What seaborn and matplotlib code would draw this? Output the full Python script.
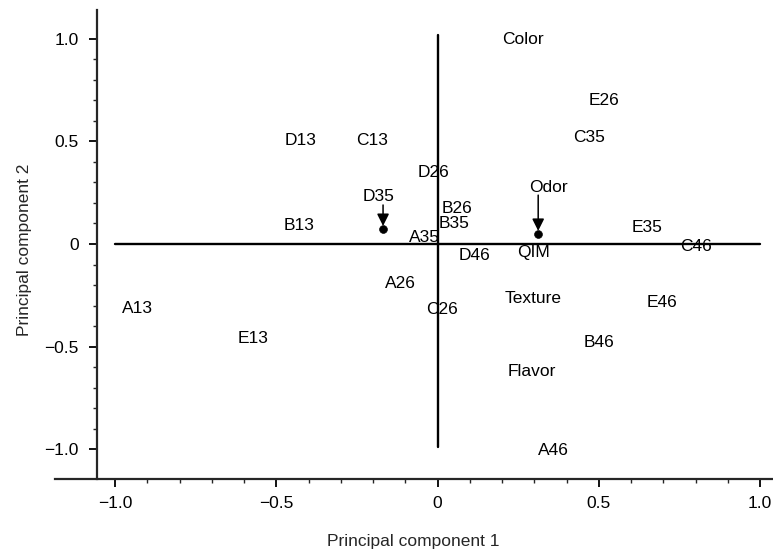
import numpy as np
import seaborn as sns
import matplotlib.pyplot as plt
from matplotlib.ticker import FixedLocator

# label positions (text centres)
labels = ['Color', 'E26', 'C35', 'D13', 'C13', 'D26', 'Odor', 'D35', 'B26', 'B35',
          'B13', 'A35', 'E35', 'QIM', 'D46', 'C46', 'A26', 'Texture', 'E46', 'A13',
          'C26', 'E13', 'B46', 'Flavor', 'A46']
pc1 = [0.265, 0.516, 0.47, -0.426, -0.203, -0.014, 0.343, -0.184, 0.06, 0.05,
       -0.43, -0.04, 0.65, 0.297, 0.116, 0.80, -0.116, 0.297, 0.697, -0.929,
       0.014, -0.571, 0.50, 0.293, 0.358]
pc2 = [0.998, 0.70, 0.52, 0.506, 0.506, 0.35, 0.277, 0.229, 0.175, 0.10,
       0.092, 0.034, 0.08, -0.04, -0.058, -0.01, -0.19, -0.267, -0.287, -0.316,
       -0.32, -0.462, -0.48, -0.62, -1.007]

# the two marked points with arrows pointing at them
dot_pc1 = [-0.169, 0.312]
dot_pc2 = [0.073, 0.049]
arrow_top = [0.19, 0.238]

xticks = [-1.0, -0.5, 0, 0.5, 1.0]
xtick_labels = ['\u22121.0', '\u22120.5', '0', '0.5', '1.0']
yticks = [-1.0, -0.5, 0, 0.5, 1.0]
ytick_labels = ['\u22121.0', '\u22120.5', '0', '0.5', '1.0']

sns.set_theme(style='ticks')
plt.rcParams['font.family'] = ['Liberation Sans', 'DejaVu Sans']

fig = plt.figure(figsize=(7.73, 5.53), dpi=100)
ax = fig.add_axes([0.0712, 0.1338, 0.9288, 0.848])

# reference cross through the origin
ax.plot([-1.0, 1.0], [0, 0], color='black', lw=1.7)
ax.plot([0, 0], [-0.99, 1.02], color='black', lw=1.7)

sns.scatterplot(x=dot_pc1, y=dot_pc2, ax=ax, color='black', s=32, edgecolor='black', zorder=5)
for x, y, top in zip(dot_pc1, dot_pc2, arrow_top):
    ax.annotate('', xy=(x, y + 0.015), xytext=(x, top),
                arrowprops=dict(arrowstyle='-|>,head_length=0.6,head_width=0.3',
                                color='black', lw=1.1, shrinkA=0, shrinkB=0))

for lab, x, y in zip(labels, pc1, pc2):
    ax.text(x, y, lab, ha='center', va='center', fontsize=12.5, color='black')

ax.set_xlim(-1.186, 1.04)
ax.set_ylim(-1.144, 1.139)
ax.spines['left'].set_position(('data', -1.056))
ax.spines['right'].set_visible(False)
ax.spines['top'].set_visible(False)
for s in ['left', 'bottom']:
    ax.spines[s].set_linewidth(1.6)

ax.set_xticks(xticks)
ax.set_xticklabels(xtick_labels)
ax.set_yticks(yticks)
ax.set_yticklabels(ytick_labels)
ax.xaxis.set_minor_locator(FixedLocator(np.round(np.arange(-1.0, 1.01, 0.1), 2)))
ax.yaxis.set_minor_locator(FixedLocator(np.round(np.arange(-1.0, 1.01, 0.1), 2)))
ax.tick_params(which='major', direction='out', length=6, width=1.3, labelsize=12.5, colors='black')
ax.tick_params(axis='x', which='major', pad=6)
ax.tick_params(axis='y', which='major', pad=7)
ax.tick_params(which='minor', direction='out', length=3, width=1)

ax.set_xlabel('Principal component 1', fontsize=12.5)
ax.set_ylabel('Principal component 2', fontsize=12.5)
ax.xaxis.set_label_coords(0.499, -0.118)
ax.yaxis.set_label_coords(-0.032, 0.488)

fig.savefig('out.png', dpi=100)
